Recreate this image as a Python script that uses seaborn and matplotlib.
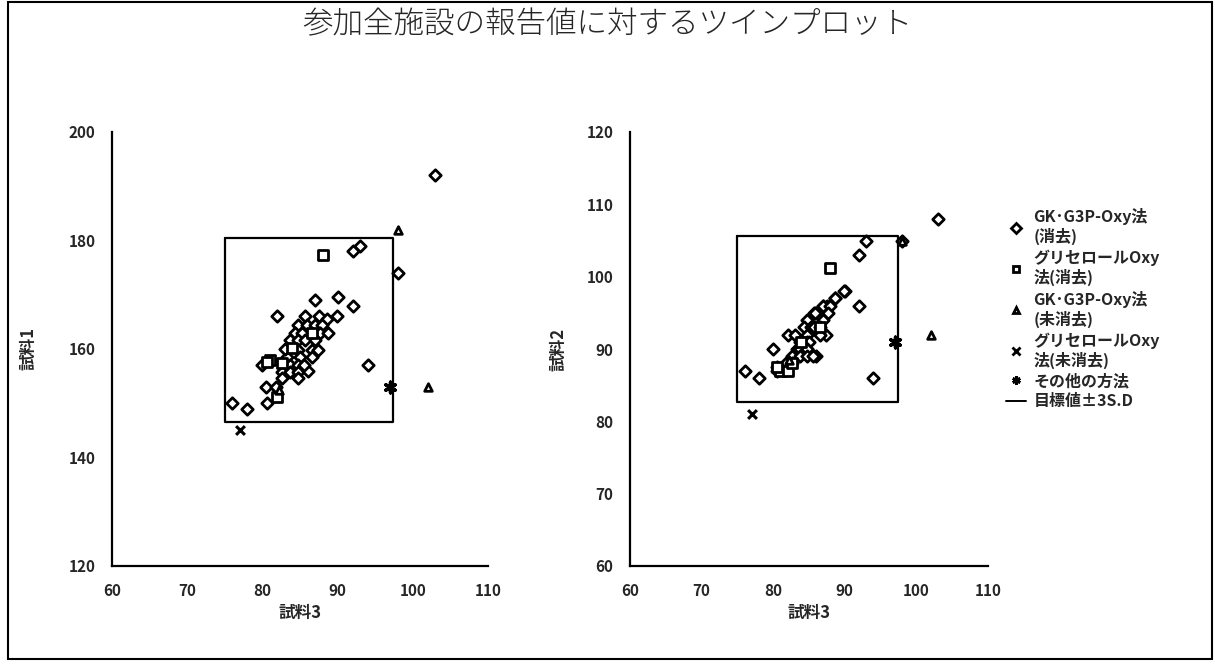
import numpy as np
import pandas as pd
import matplotlib
matplotlib.use("Agg")
import matplotlib.pyplot as plt
import seaborn as sns
from matplotlib.lines import Line2D
from matplotlib.patches import Rectangle

sns.set_style("white")
plt.rcParams['font.family'] = ['Noto Sans CJK JP', 'DejaVu Sans']

# ---------------- data ----------------
methods = ["GK･G3P-Oxy法\n(消去)", "グリセロールOxy\n法(消去)", "GK･G3P-Oxy法\n(未消去)",
           "グリセロールOxy\n法(未消去)", "その他の方法"]

# GK·G3P-Oxy (消去) : 試料3, 試料1, 試料2
gk_x3 = [103, 98, 93, 92, 94, 92, 90, 87, 82, 76, 78, 80, 80.5, 80.6, 81.8,
         85.7, 87.5, 88.6, 89.9, 84.7, 85.9, 87.0, 87.9, 84.3, 85.3, 87.7, 88.7,
         83.7, 84.7, 85.7, 87.0, 84.7, 86.6, 87.4, 83.3, 85.0, 86.6, 83.7, 84.7,
         82.6, 83.7, 84.7, 82.6, 84.7, 86.0, 83.0, 85.5]
gk_s1 = [192, 174, 179, 178, 157, 168, 169.5, 169, 166, 150, 149, 157, 153, 150, 153,
         166, 166, 165.5, 166, 164.4, 164.4, 164.4, 164.4, 163, 163, 163, 163,
         161.7, 161.7, 161.7, 161.7, 159.8, 159.8, 159.8, 158.5, 158.5, 158.5, 157, 157,
         155.8, 155.8, 155.8, 154.7, 154.7, 156, 160, 157]
gk_s2 = [108, 105, 105, 103, 86, 96, 98, 96, 92, 87, 86, 90, 87, 87.5, 88,
         95, 96, 97, 98, 94, 95, 96, 96, 93, 93, 95, 97,
         91, 92, 93, 94, 91, 93, 92, 90, 91, 92, 90, 90,
         89, 89, 90, 88, 89, 89, 92, 89]

# グリセロールOxy (消去)
gly_x3 = [88, 81, 82, 86.6, 83.9, 82.6, 80.6]
gly_s1 = [177.3, 158, 151.2, 163, 160.2, 157.4, 157.6]
gly_s2 = [101.2, 87, 87, 93, 91, 88, 87.5]

# GK·G3P-Oxy (未消去)
gkn_x3 = [98, 102, 82.2]
gkn_s1 = [182, 153, 152.5]
gkn_s2 = [105, 92, 88.5]

# グリセロールOxy (未消去)
glyn_x3 = [77]
glyn_s1 = [145]
glyn_s2 = [81]

# その他の方法
oth_x3 = [97]
oth_s1 = [153]
oth_s2 = [91]

# 目標値 ± 3SD
target_x3, sd3_x3 = 86.2, 11.2
target_s1, sd3_s1 = 163.5, 17.0
target_s2, sd3_s2 = 94.15, 11.45

x_ticks = [60, 70, 80, 90, 100, 110]
y1_ticks = [120, 140, 160, 180, 200]
y2_ticks = [60, 70, 80, 90, 100, 110, 120]

frames = []
for m, xs, y1, y2 in [(methods[0], gk_x3, gk_s1, gk_s2),
                      (methods[1], gly_x3, gly_s1, gly_s2),
                      (methods[2], gkn_x3, gkn_s1, gkn_s2),
                      (methods[3], glyn_x3, glyn_s1, glyn_s2),
                      (methods[4], oth_x3, oth_s1, oth_s2)]:
    frames.append(pd.DataFrame({"method": m, "試料3": xs, "試料1": y1, "試料2": y2}))
df = pd.concat(frames, ignore_index=True)

style = {
    methods[0]: dict(marker="D", s=34, facecolor="white", edgecolor="black", linewidth=2.0),
    methods[1]: dict(marker="s", s=44, facecolor="white", edgecolor="black", linewidth=2.0),
    methods[2]: dict(marker="^", s=30, facecolor="white", edgecolor="black", linewidth=2.0),
    methods[3]: dict(marker="x", s=40, color="black", linewidth=2.2),
    methods[4]: dict(marker=(6, 2, 0), s=60, color="black", linewidth=2.4),
}

fig = plt.figure(figsize=(12.15, 6.69), dpi=100)
ax1 = fig.add_axes([112/1215, 103/669, 376/1215, 434/669])
ax2 = fig.add_axes([630/1215, 103/669, 358/1215, 434/669])

fs_tick = 11
for ax, ycol, yt, tgt, sd, lpad in [(ax1, "試料1", y1_ticks, target_s1, sd3_s1, 22),
                                    (ax2, "試料2", y2_ticks, target_s2, sd3_s2, 14)]:
    rx = [target_x3 - sd3_x3, target_x3 + sd3_x3, target_x3 + sd3_x3, target_x3 - sd3_x3, target_x3 - sd3_x3]
    ry = [tgt + sd, tgt + sd, tgt - sd, tgt - sd, tgt + sd]
    ax.plot(rx, ry, color="black", lw=1.6, label="目標値±3S.D", zorder=1)
    for m in methods:
        sub = df[df["method"] == m]
        sns.scatterplot(data=sub, x="試料3", y=ycol, ax=ax, label=m, zorder=3,
                        legend=False, **style[m])
    ax.set_xlim(x_ticks[0], x_ticks[-1])
    ax.set_ylim(yt[0], yt[-1])
    ax.set_xticks(x_ticks)
    ax.set_yticks(yt)
    ax.tick_params(direction="in", length=5, width=1.3, labelsize=fs_tick, pad=12)
    for lab in ax.get_xticklabels() + ax.get_yticklabels():
        lab.set_fontweight("bold")
    for sp in ["top", "right"]:
        ax.spines[sp].set_visible(False)
    for sp in ["left", "bottom"]:
        ax.spines[sp].set_linewidth(1.6)
        ax.spines[sp].set_color("black")
    ax.set_xlabel("試料3", fontsize=12, fontweight="bold", labelpad=4)
    ax.set_ylabel(ycol, fontsize=12, fontweight="bold", labelpad=lpad)
    for c in ax.collections:
        c.set_clip_on(False)

# legend
handles = []
for m in methods:
    st = style[m]
    if m in (methods[3], methods[4]):
        handles.append(Line2D([], [], ls="none", marker=st["marker"], color="black",
                              markersize=6, markeredgewidth=2.0, label=m))
    else:
        handles.append(Line2D([], [], ls="none", marker=st["marker"], markerfacecolor="white",
                              markeredgecolor="black", markersize=5, markeredgewidth=2.0, label=m))
handles.append(Line2D([], [], color="black", lw=1.4, label="目標値±3S.D"))
leg = fig.legend(handles=handles, loc="upper left", bbox_to_anchor=(1000/1215, 1 - 202/669),
                 frameon=False, fontsize=11.5, labelspacing=0.28, handlelength=1.2,
                 handletextpad=0.5, borderaxespad=0)
for t in leg.get_texts():
    t.set_fontweight("bold")

fig.text(0.5, 1 - 24/669, "参加全施設の報告値に対するツインプロット", ha="center", va="center",
         fontsize=22, fontweight="light")

fig.patches.append(Rectangle((8/1215, 10/669), 1204/1215, 657/669, transform=fig.transFigure,
                             fill=False, edgecolor="black", lw=1.5))

fig.savefig("out.png", dpi=100)
